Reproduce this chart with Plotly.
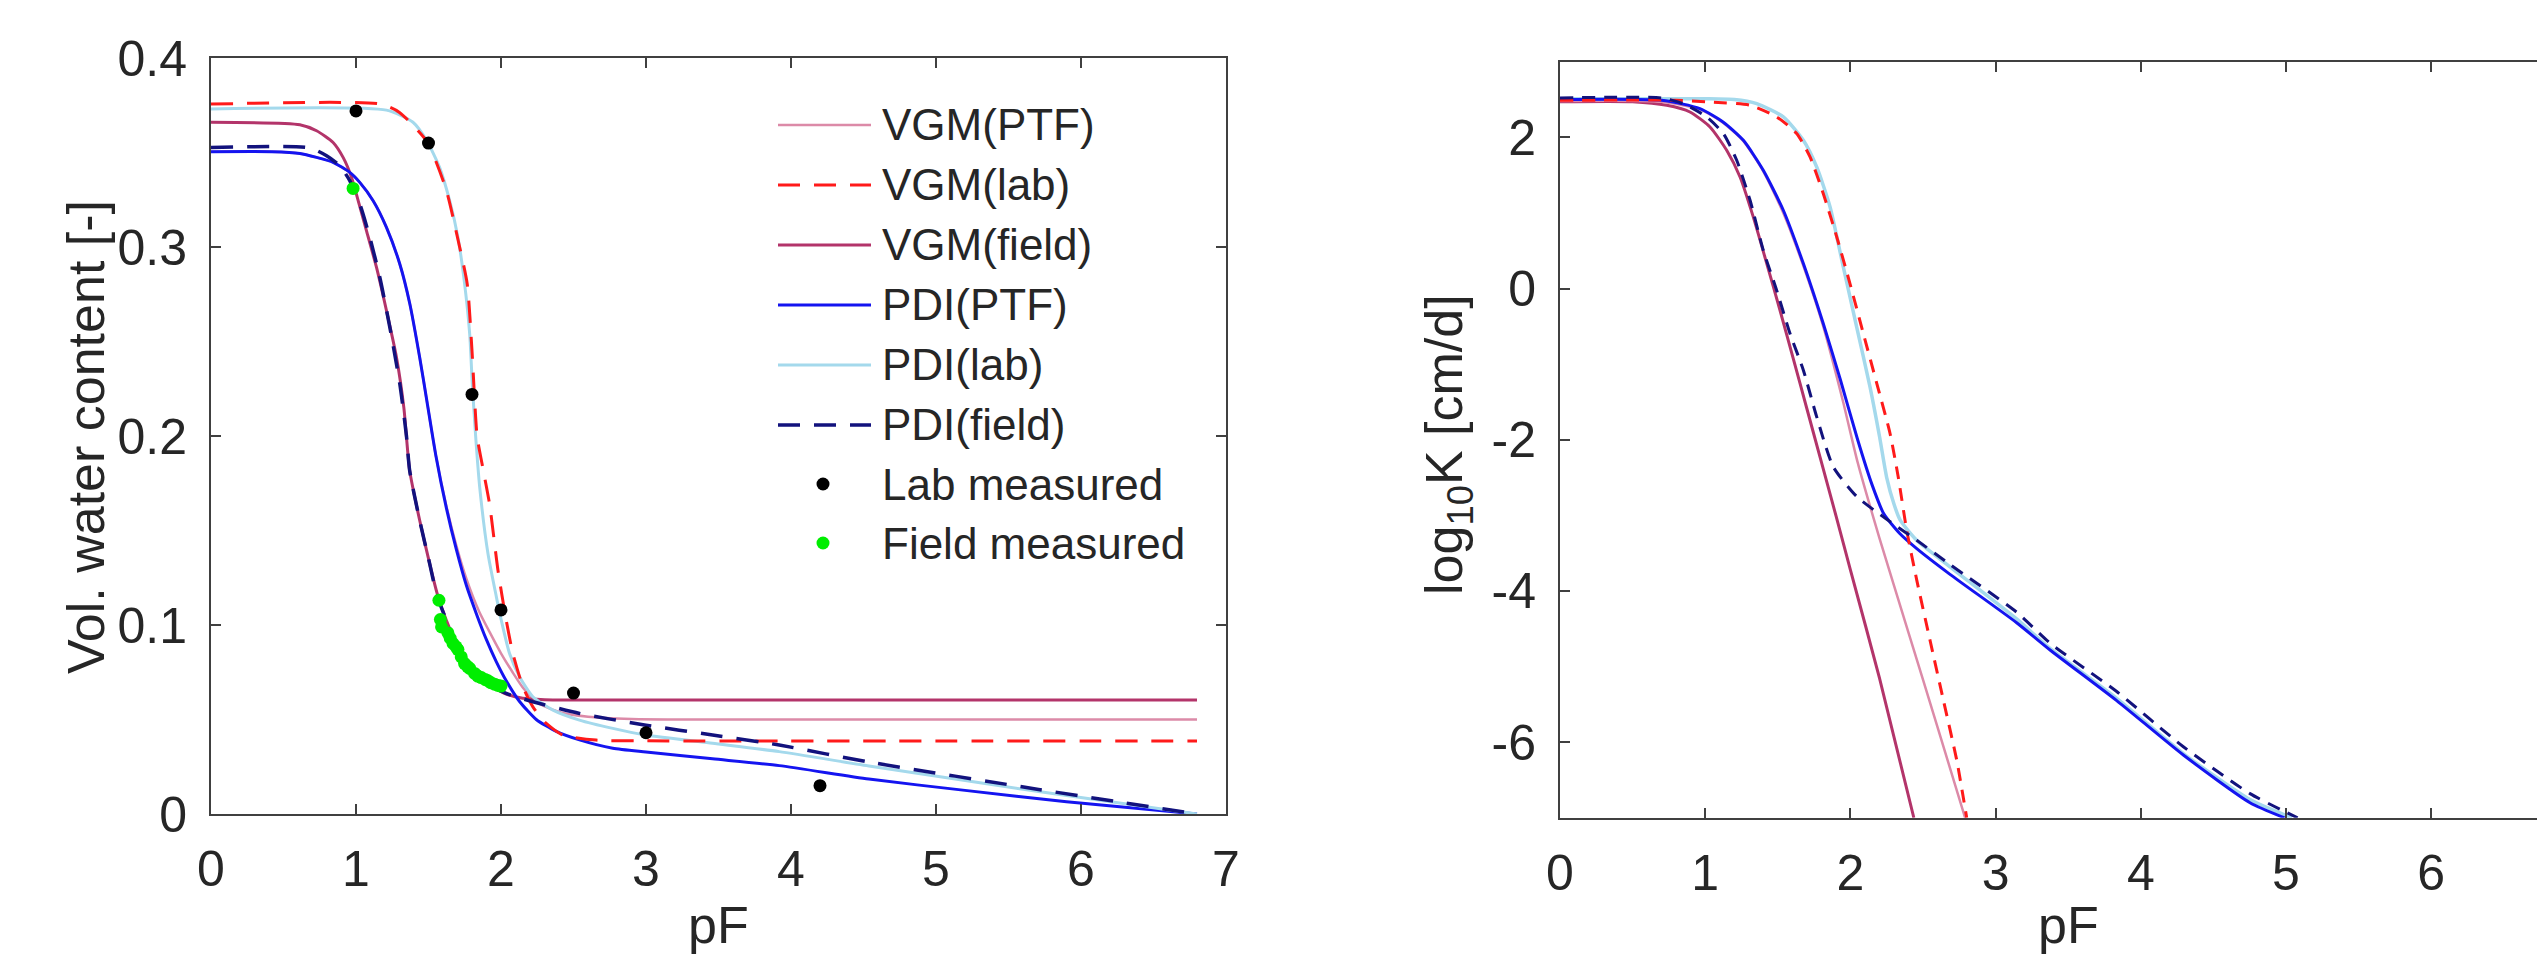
import plotly.graph_objects as go

W, H = 2537, 956

# ---------------- Water retention (left) ----------------
vgm_ptf_pf = [0, 0.42, 0.613, 0.728, 0.842, 0.957, 1.026, 1.118, 1.21, 1.302, 1.371, 1.439, 1.49, 1.55, 1.623, 1.692, 1.761, 1.85, 1.93, 2.0, 2.08, 2.15, 2.25, 2.4, 2.6, 2.9, 3.3, 6.8]
vgm_ptf_th = [0.3504, 0.3504, 0.3495, 0.3474, 0.3448, 0.3395, 0.3342, 0.3245, 0.3104, 0.291, 0.27, 0.2417, 0.218, 0.19, 0.163, 0.142, 0.1245, 0.107, 0.095, 0.085, 0.075, 0.067, 0.059, 0.054, 0.0515, 0.0503, 0.050, 0.050]

vgm_lab_pf = [0, 1.17, 1.30, 1.49, 1.623, 1.70, 1.767, 1.80, 1.835, 1.87, 1.921, 1.979, 2.036, 2.082, 2.151, 2.22, 2.312, 2.426, 2.656, 3.0, 6.8]
vgm_lab_th = [0.3756, 0.3756, 0.3712, 0.3557, 0.33, 0.305, 0.2805, 0.245, 0.20, 0.185, 0.164, 0.129, 0.1025, 0.0849, 0.0673, 0.0567, 0.0479, 0.0418, 0.0391, 0.0387, 0.0386]

vgm_field_pf = [0, 0.613, 0.728, 0.842, 0.911, 0.969, 1.015, 1.072, 1.141, 1.21, 1.279, 1.33, 1.37, 1.439, 1.508, 1.56, 1.623, 1.715, 1.83, 1.944, 2.036, 2.15, 2.3, 2.6, 6.8]
vgm_field_th = [0.366, 0.3647, 0.3615, 0.3553, 0.3474, 0.3369, 0.3245, 0.3087, 0.2893, 0.2664, 0.2417, 0.215, 0.1818, 0.1554, 0.1325, 0.1166, 0.1025, 0.0867, 0.0744, 0.0675, 0.0635, 0.0612, 0.0605, 0.0603, 0.0603]

pdi_ptf_pf = [0, 0.42, 0.613, 0.728, 0.842, 0.957, 1.026, 1.118, 1.21, 1.302, 1.371, 1.439, 1.49, 1.55, 1.623, 1.692, 1.761, 1.83, 1.898, 1.968, 2.036, 2.128, 2.243, 2.381, 2.541, 2.771, 3.0, 3.459, 3.919, 4.537, 5.2, 5.9, 6.8]
pdi_ptf_th = [0.3504, 0.3504, 0.3495, 0.3474, 0.3448, 0.3395, 0.3342, 0.3245, 0.3104, 0.291, 0.27, 0.2417, 0.218, 0.19, 0.162, 0.14, 0.121, 0.106, 0.0925, 0.0805, 0.0705, 0.0595, 0.050, 0.0437, 0.0392, 0.0348, 0.0328, 0.0292, 0.0256, 0.0185, 0.0125, 0.0065, 0.0]

pdi_lab_pf = [0, 1.21, 1.393, 1.492, 1.577, 1.646, 1.703, 1.749, 1.784, 1.802, 1.825, 1.853, 1.91, 1.968, 2.002, 2.059, 2.128, 2.22, 2.358, 2.541, 2.771, 3.0, 3.459, 3.919, 4.537, 5.707, 6.8]
pdi_lab_th = [0.373, 0.3724, 0.366, 0.3557, 0.342, 0.3245, 0.305, 0.2805, 0.254, 0.2276, 0.20, 0.173, 0.1378, 0.1149, 0.1025, 0.0849, 0.0726, 0.062, 0.055, 0.0497, 0.0453, 0.0418, 0.0374, 0.033, 0.0254, 0.0119, 0.0]

pdi_field_pf = [0, 0.682, 0.797, 0.888, 0.957, 1.026, 1.095, 1.164, 1.233, 1.302, 1.348, 1.37, 1.439, 1.508, 1.555, 1.623, 1.715, 1.83, 1.944, 2.036, 2.22, 2.541, 3.0, 3.459, 3.919, 4.537, 5.707, 6.8]
pdi_field_th = [0.3527, 0.3524, 0.3483, 0.343, 0.3351, 0.3228, 0.3051, 0.284, 0.2576, 0.2276, 0.2, 0.1818, 0.1554, 0.1325, 0.1166, 0.1025, 0.0867, 0.0744, 0.0673, 0.0638, 0.0594, 0.0532, 0.047, 0.0418, 0.0365, 0.0275, 0.013, 0.0]

lab_pf = [1.0, 1.5, 1.8, 2.0, 2.5, 3.0, 4.2]
lab_th = [0.372, 0.355, 0.222, 0.108, 0.064, 0.043, 0.015]

field_pf = [0.98, 1.572, 1.582, 1.59, 1.634, 1.65, 1.669, 1.69, 1.703, 1.726, 1.749, 1.77, 1.784, 1.818, 1.84, 1.864, 1.89, 1.91, 1.93, 1.956, 1.98, 2.0]
field_th = [0.331, 0.1131, 0.1029, 0.099, 0.0958, 0.093, 0.0902, 0.0885, 0.087, 0.0831, 0.0796, 0.078, 0.077, 0.0744, 0.073, 0.0722, 0.0712, 0.0705, 0.0695, 0.0687, 0.068, 0.0677]

# ---------------- Conductivity (right) ----------------
k_vgm_ptf_pf = [0, 0.7, 0.964, 1.125, 1.263, 1.4, 1.538, 1.676, 1.813, 1.95, 2.05, 2.2, 2.4, 2.6, 2.79]
k_vgm_ptf = [2.48, 2.47, 2.37, 2.19, 1.95, 1.55, 1.0, 0.3, -0.5, -1.5, -2.3, -3.3, -4.55, -5.8, -7.0]

k_vgm_lab_pf = [0, 0.8, 1.033, 1.309, 1.492, 1.63, 1.722, 1.813, 1.906, 1.997, 2.089, 2.181, 2.273, 2.33, 2.388, 2.457, 2.548, 2.64, 2.732, 2.801]
k_vgm_lab = [2.49, 2.49, 2.467, 2.423, 2.27, 2.05, 1.74, 1.256, 0.682, 0.066, -0.595, -1.25, -1.917, -2.5, -3.2, -3.856, -4.649, -5.442, -6.235, -7.0]

k_vgm_field_pf = [0, 0.5, 0.735, 0.895, 1.033, 1.148, 1.24, 1.331, 1.424, 1.515, 1.607, 1.699, 1.791, 1.9, 2.0, 2.2, 2.437]
k_vgm_field = [2.47, 2.47, 2.423, 2.335, 2.137, 1.828, 1.475, 0.947, 0.33, -0.287, -0.93, -1.58, -2.23, -3.0, -3.72, -5.15, -7.0]

k_pdi_ptf_pf = [0, 0.7, 0.964, 1.125, 1.263, 1.4, 1.538, 1.676, 1.813, 1.93, 2.05, 2.15, 2.23, 2.34, 2.457, 2.686, 3.145, 3.375, 3.834, 4.293, 4.752, 4.99]
k_pdi_ptf = [2.50, 2.49, 2.38, 2.2, 1.96, 1.564, 1.035, 0.33, -0.463, -1.2, -2.0, -2.6, -2.98, -3.24, -3.44, -3.78, -4.42, -4.78, -5.45, -6.17, -6.8, -7.0]

k_pdi_lab_pf = [0, 1.0, 1.2, 1.355, 1.538, 1.676, 1.768, 1.86, 1.951, 2.043, 2.135, 2.2, 2.25, 2.3, 2.342, 2.457, 2.686, 3.145, 3.375, 3.834, 4.293, 4.752, 5.04]
k_pdi_lab = [2.51, 2.51, 2.50, 2.445, 2.27, 1.96, 1.607, 1.079, 0.286, -0.507, -1.3, -1.95, -2.5, -2.85, -3.06, -3.33, -3.68, -4.37, -4.76, -5.42, -6.15, -6.76, -7.0]

k_pdi_field_pf = [0, 0.7, 0.85, 1.01, 1.125, 1.217, 1.309, 1.4, 1.492, 1.584, 1.676, 1.768, 1.882, 2.043, 2.227, 2.457, 2.686, 3.145, 3.375, 3.834, 4.293, 4.752, 5.08]
k_pdi_field = [2.52, 2.52, 2.445, 2.27, 2.05, 1.696, 1.167, 0.506, -0.022, -0.595, -1.08, -1.697, -2.358, -2.75, -3.02, -3.33, -3.65, -4.28, -4.69, -5.33, -6.06, -6.68, -7.0]

# ---------------- tick labels ----------------
x1_ticks = [0, 1, 2, 3, 4, 5, 6, 7]
y1_ticks = [0, 0.1, 0.2, 0.3, 0.4]
y1_text = ["0", "0.1", "0.2", "0.3", "0.4"]
x2_ticks = [0, 1, 2, 3, 4, 5, 6]
y2_ticks = [-6, -4, -2, 0, 2]
y2_text = ["-6", "-4", "-2", "0", "2"]

legend_names = ["VGM(PTF)", "VGM(lab)", "VGM(field)", "PDI(PTF)", "PDI(lab)", "PDI(field)", "Lab measured", "Field measured"]

# styles
C_VPTF = "#dc8aa8"
C_VLAB = "#ff1a1a"
C_VFLD = "#b3346a"
C_PPTF = "#1414f0"
C_PLAB = "#a4d9ec"
C_PFLD = "#12127d"
DASH_L = "22px,14px"
DASH_R = "13px,9px"
FONT = "Liberation Sans, Arial, sans-serif"
TXT = "#262626"

fig = go.Figure()

def line(x, y, color, width, dash, xa, ya):
    fig.add_trace(go.Scatter(x=x, y=y, mode="lines", xaxis=xa, yaxis=ya,
                             line=dict(color=color, width=width, dash=dash, shape="spline", smoothing=0.6),
                             showlegend=False, hoverinfo="skip"))

# left
line(vgm_ptf_pf, vgm_ptf_th, C_VPTF, 2.5, "solid", "x", "y")
line(vgm_field_pf, vgm_field_th, C_VFLD, 3, "solid", "x", "y")
line(pdi_ptf_pf, pdi_ptf_th, C_PPTF, 3, "solid", "x", "y")
line(pdi_lab_pf, pdi_lab_th, C_PLAB, 3, "solid", "x", "y")
line(vgm_lab_pf, vgm_lab_th, C_VLAB, 3, DASH_L, "x", "y")
line(pdi_field_pf, pdi_field_th, C_PFLD, 3.5, DASH_L, "x", "y")
fig.add_trace(go.Scatter(x=field_pf, y=field_th, mode="markers", xaxis="x", yaxis="y",
                         marker=dict(color="#00ee00", size=13), showlegend=False, hoverinfo="skip"))
fig.add_trace(go.Scatter(x=lab_pf, y=lab_th, mode="markers", xaxis="x", yaxis="y",
                         marker=dict(color="#000000", size=13), showlegend=False, hoverinfo="skip"))

# right
line(k_vgm_field_pf, k_vgm_field, C_VFLD, 3, "solid", "x2", "y2")
line(k_vgm_ptf_pf, k_vgm_ptf, C_VPTF, 2.5, "solid", "x2", "y2")
line(k_pdi_lab_pf, k_pdi_lab, C_PLAB, 3.5, "solid", "x2", "y2")
line(k_pdi_ptf_pf, k_pdi_ptf, C_PPTF, 3, "solid", "x2", "y2")
line(k_vgm_lab_pf, k_vgm_lab, C_VLAB, 3, DASH_R, "x2", "y2")
line(k_pdi_field_pf, k_pdi_field, C_PFLD, 3, DASH_R, "x2", "y2")

def px_x(p):
    return p / W

def px_y(p):
    return 1 - p / H

axis_common = dict(showgrid=False, zeroline=False, showline=True, linewidth=2, linecolor="#404040",
                   ticks="inside", ticklen=10, tickwidth=2, tickcolor="#404040", automargin=False,
                   tickfont=dict(family=FONT, size=50, color=TXT))

fig.update_layout(
    width=W, height=H, margin=dict(l=0, r=0, t=0, b=0, autoexpand=False),
    paper_bgcolor="white", plot_bgcolor="white", showlegend=False,
    xaxis=dict(domain=[px_x(211), px_x(1226)], range=[0, 7], tickvals=x1_ticks, anchor="y",
               mirror="ticks", ticklabelstandoff=10, **axis_common),
    yaxis=dict(domain=[px_y(814), px_y(58)], range=[0, 0.4], tickvals=y1_ticks, ticktext=y1_text, anchor="x",
               mirror="ticks", ticklabelstandoff=12, **axis_common),
    xaxis2=dict(domain=[px_x(1560), 1.0], range=[0, (W - 1560) / 145.2], tickvals=x2_ticks, anchor="y2",
                mirror="ticks", ticklabelstandoff=10, **axis_common),
    yaxis2=dict(domain=[px_y(817.8), px_y(61.7)], range=[-7, 3], tickvals=y2_ticks, ticktext=y2_text, anchor="x2",
                mirror=False, ticklabelstandoff=12, **axis_common),
)

ann = []
# axis titles
ann.append(dict(text="pF", x=px_x(718), y=0, xref="paper", yref="paper", xanchor="center", yanchor="bottom",
                showarrow=False, font=dict(family=FONT, size=52, color=TXT)))
ann.append(dict(text="pF", x=px_x(1560 + 145.2 * 3.5), y=0, xref="paper", yref="paper", xanchor="center", yanchor="bottom",
                showarrow=False, font=dict(family=FONT, size=52, color=TXT)))
ann.append(dict(text="Vol. water content [-]", x=px_x(86), y=px_y(437), xref="paper", yref="paper",
                xanchor="center", yanchor="middle", textangle=-90, showarrow=False,
                font=dict(family=FONT, size=52, color=TXT)))
ann.append(dict(text="log<sub>10</sub>K [cm/d]", x=px_x(1448), y=px_y(445), xref="paper", yref="paper",
                xanchor="center", yanchor="middle", textangle=-90, showarrow=False,
                font=dict(family=FONT, size=52, color=TXT)))

# custom legend
rows = [125, 185, 245, 305, 365, 425, 484, 543]
styles = [(C_VPTF, "solid", 2.5), (C_VLAB, DASH_L, 3), (C_VFLD, "solid", 3), (C_PPTF, "solid", 3),
          (C_PLAB, "solid", 3), (C_PFLD, DASH_L, 3.5)]
shapes = []
for i, name in enumerate(legend_names):
    yy = px_y(rows[i])
    if i < 6:
        c, d, w = styles[i]
        shapes.append(dict(type="line", xref="paper", yref="paper", x0=px_x(778), x1=px_x(871), y0=yy, y1=yy,
                           line=dict(color=c, width=w, dash=d)))
    else:
        c = "#000000" if i == 6 else "#00ee00"
        r = 6.5
        shapes.append(dict(type="circle", xref="paper", yref="paper", x0=px_x(823 - r), x1=px_x(823 + r),
                           y0=px_y(rows[i] + r), y1=px_y(rows[i] - r), fillcolor=c, line=dict(color=c, width=0)))
    ann.append(dict(text=name, x=px_x(880), y=yy, xref="paper", yref="paper", xanchor="left", yanchor="middle",
                    showarrow=False, font=dict(family=FONT, size=44, color=TXT)))

fig.update_layout(annotations=ann, shapes=shapes)
fig.write_html("out.html", config={"displayModeBar": False, "staticPlot": True},
               post_script="document.body.style.margin='0px';document.body.style.overflow='hidden';")
